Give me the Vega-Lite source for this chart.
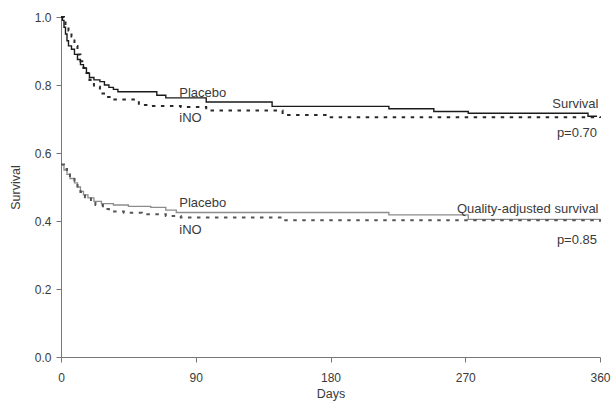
{
  "$schema": "https://vega.github.io/schema/vega-lite/v6.json",
  "width": 539,
  "height": 340,
  "autosize": {"type": "none"},
  "padding": {"left": 61, "top": 17, "right": 11, "bottom": 46},
  "background": "white",
  "config": {
    "view": {"stroke": null},
    "font": "Liberation Sans",
    "axis": {
      "grid": false,
      "domainColor": "#777777",
      "tickColor": "#777777",
      "tickSize": 5,
      "labelFlush": false,
      "labelOverlap": false,
      "labelFont": "Liberation Sans",
      "titleFont": "Liberation Sans",
      "labelFontSize": 12,
      "titleFontSize": 12.5,
      "titleFontWeight": "normal",
      "labelColor": "#3a3a3a",
      "titleColor": "#3a3a3a"
    }
  },
  "datasets": {
    "curves": [
      {"series": "PlaceboS", "day": 0, "s": 1.0},
      {"series": "PlaceboS", "day": 1, "s": 0.99},
      {"series": "PlaceboS", "day": 2, "s": 0.97},
      {"series": "PlaceboS", "day": 3, "s": 0.95},
      {"series": "PlaceboS", "day": 4, "s": 0.93},
      {"series": "PlaceboS", "day": 5, "s": 0.915},
      {"series": "PlaceboS", "day": 7, "s": 0.905},
      {"series": "PlaceboS", "day": 9, "s": 0.89},
      {"series": "PlaceboS", "day": 11, "s": 0.875},
      {"series": "PlaceboS", "day": 13, "s": 0.86},
      {"series": "PlaceboS", "day": 15, "s": 0.85},
      {"series": "PlaceboS", "day": 17, "s": 0.835},
      {"series": "PlaceboS", "day": 19, "s": 0.822},
      {"series": "PlaceboS", "day": 22, "s": 0.815},
      {"series": "PlaceboS", "day": 26, "s": 0.81},
      {"series": "PlaceboS", "day": 29, "s": 0.8},
      {"series": "PlaceboS", "day": 32, "s": 0.793},
      {"series": "PlaceboS", "day": 35, "s": 0.787},
      {"series": "PlaceboS", "day": 38, "s": 0.78},
      {"series": "PlaceboS", "day": 64, "s": 0.77},
      {"series": "PlaceboS", "day": 70, "s": 0.762},
      {"series": "PlaceboS", "day": 97, "s": 0.75},
      {"series": "PlaceboS", "day": 141, "s": 0.737},
      {"series": "PlaceboS", "day": 219, "s": 0.73},
      {"series": "PlaceboS", "day": 249, "s": 0.722},
      {"series": "PlaceboS", "day": 272, "s": 0.717},
      {"series": "PlaceboS", "day": 352, "s": 0.708},
      {"series": "PlaceboS", "day": 358, "s": 0.708},
      {"series": "iNOS", "day": 0, "s": 1.0},
      {"series": "iNOS", "day": 2, "s": 0.99},
      {"series": "iNOS", "day": 3, "s": 0.975},
      {"series": "iNOS", "day": 5, "s": 0.96},
      {"series": "iNOS", "day": 7, "s": 0.943},
      {"series": "iNOS", "day": 9, "s": 0.915},
      {"series": "iNOS", "day": 11, "s": 0.89},
      {"series": "iNOS", "day": 13, "s": 0.87},
      {"series": "iNOS", "day": 15, "s": 0.85},
      {"series": "iNOS", "day": 17, "s": 0.835},
      {"series": "iNOS", "day": 19, "s": 0.815},
      {"series": "iNOS", "day": 22, "s": 0.795},
      {"series": "iNOS", "day": 26, "s": 0.775},
      {"series": "iNOS", "day": 30, "s": 0.765},
      {"series": "iNOS", "day": 34, "s": 0.757},
      {"series": "iNOS", "day": 52, "s": 0.741},
      {"series": "iNOS", "day": 60, "s": 0.738},
      {"series": "iNOS", "day": 80, "s": 0.735},
      {"series": "iNOS", "day": 97, "s": 0.725},
      {"series": "iNOS", "day": 148, "s": 0.712},
      {"series": "iNOS", "day": 179, "s": 0.705},
      {"series": "iNOS", "day": 360, "s": 0.703},
      {"series": "PlaceboQ", "day": 0, "s": 0.566},
      {"series": "PlaceboQ", "day": 2, "s": 0.55},
      {"series": "PlaceboQ", "day": 4, "s": 0.537},
      {"series": "PlaceboQ", "day": 6, "s": 0.525},
      {"series": "PlaceboQ", "day": 9, "s": 0.512},
      {"series": "PlaceboQ", "day": 11, "s": 0.5},
      {"series": "PlaceboQ", "day": 13, "s": 0.487},
      {"series": "PlaceboQ", "day": 15, "s": 0.477},
      {"series": "PlaceboQ", "day": 18, "s": 0.468},
      {"series": "PlaceboQ", "day": 22, "s": 0.458},
      {"series": "PlaceboQ", "day": 27, "s": 0.451},
      {"series": "PlaceboQ", "day": 35, "s": 0.447},
      {"series": "PlaceboQ", "day": 45, "s": 0.443},
      {"series": "PlaceboQ", "day": 60, "s": 0.44},
      {"series": "PlaceboQ", "day": 70, "s": 0.432},
      {"series": "PlaceboQ", "day": 77, "s": 0.425},
      {"series": "PlaceboQ", "day": 219, "s": 0.418},
      {"series": "PlaceboQ", "day": 272, "s": 0.405},
      {"series": "PlaceboQ", "day": 360, "s": 0.402},
      {"series": "iNOQ", "day": 0, "s": 0.566},
      {"series": "iNOQ", "day": 2, "s": 0.553},
      {"series": "iNOQ", "day": 4, "s": 0.54},
      {"series": "iNOQ", "day": 6, "s": 0.527},
      {"series": "iNOQ", "day": 9, "s": 0.512},
      {"series": "iNOQ", "day": 11, "s": 0.498},
      {"series": "iNOQ", "day": 13, "s": 0.485},
      {"series": "iNOQ", "day": 16, "s": 0.47},
      {"series": "iNOQ", "day": 20, "s": 0.457},
      {"series": "iNOQ", "day": 23, "s": 0.447},
      {"series": "iNOQ", "day": 28, "s": 0.435},
      {"series": "iNOQ", "day": 32, "s": 0.428},
      {"series": "iNOQ", "day": 42, "s": 0.424},
      {"series": "iNOQ", "day": 54, "s": 0.42},
      {"series": "iNOQ", "day": 70, "s": 0.415},
      {"series": "iNOQ", "day": 80, "s": 0.41},
      {"series": "iNOQ", "day": 148, "s": 0.402},
      {"series": "iNOQ", "day": 360, "s": 0.398}
    ],
    "labelsLeft": [
      {"day": 79, "s": 0.777, "text": "Placebo"},
      {"day": 79, "s": 0.702, "text": "iNO"},
      {"day": 79, "s": 0.454, "text": "Placebo"},
      {"day": 79, "s": 0.374, "text": "iNO"}
    ],
    "labelsRight": [
      {"day": 359, "s": 0.745, "text": "Survival"},
      {"day": 358, "s": 0.66, "text": "p=0.70"},
      {"day": 359, "s": 0.436, "text": "Quality-adjusted survival"},
      {"day": 358, "s": 0.345, "text": "p=0.85"}
    ]
  },
  "encoding": {
    "x": {
      "field": "day", "type": "quantitative",
      "scale": {"domain": [0, 360], "nice": false, "zero": false},
      "axis": {"values": [0, 90, 180, 270, 360], "title": "Days", "labelPadding": 10, "titlePadding": 4, "format": "d"}
    },
    "y": {
      "field": "s", "type": "quantitative",
      "scale": {"domain": [0, 1], "nice": false},
      "axis": {"values": [0, 0.2, 0.4, 0.6, 0.8, 1.0], "format": ".1f", "title": "Survival", "labelPadding": 5, "titlePadding": 12}
    }
  },
  "layer": [
    {
      "data": {"name": "curves"},
      "transform": [{"filter": "datum.series === 'PlaceboQ'"}],
      "mark": {"type": "line", "interpolate": "step-after", "color": "#8c8c8c", "strokeWidth": 1.3}
    },
    {
      "data": {"name": "curves"},
      "transform": [{"filter": "datum.series === 'iNOQ'"}],
      "mark": {"type": "line", "interpolate": "step-after", "color": "#555555", "strokeWidth": 2, "strokeDash": [3.5, 5.5]}
    },
    {
      "data": {"name": "curves"},
      "transform": [{"filter": "datum.series === 'iNOS'"}],
      "mark": {"type": "line", "interpolate": "step-after", "color": "#2a2a2a", "strokeWidth": 2, "strokeDash": [3.5, 5.5]}
    },
    {
      "data": {"name": "curves"},
      "transform": [{"filter": "datum.series === 'PlaceboS'"}],
      "mark": {"type": "line", "interpolate": "step-after", "color": "#1a1a1a", "strokeWidth": 1.4}
    },
    {
      "data": {"name": "labelsLeft"},
      "mark": {"type": "text", "align": "left", "baseline": "middle", "fontSize": 13, "color": "#3a3a3a", "font": "Liberation Sans"},
      "encoding": {"text": {"field": "text"}}
    },
    {
      "data": {"name": "labelsRight"},
      "mark": {"type": "text", "align": "right", "baseline": "middle", "fontSize": 13, "color": "#3a3a3a", "font": "Liberation Sans"},
      "encoding": {"text": {"field": "text"}}
    }
  ]
}
